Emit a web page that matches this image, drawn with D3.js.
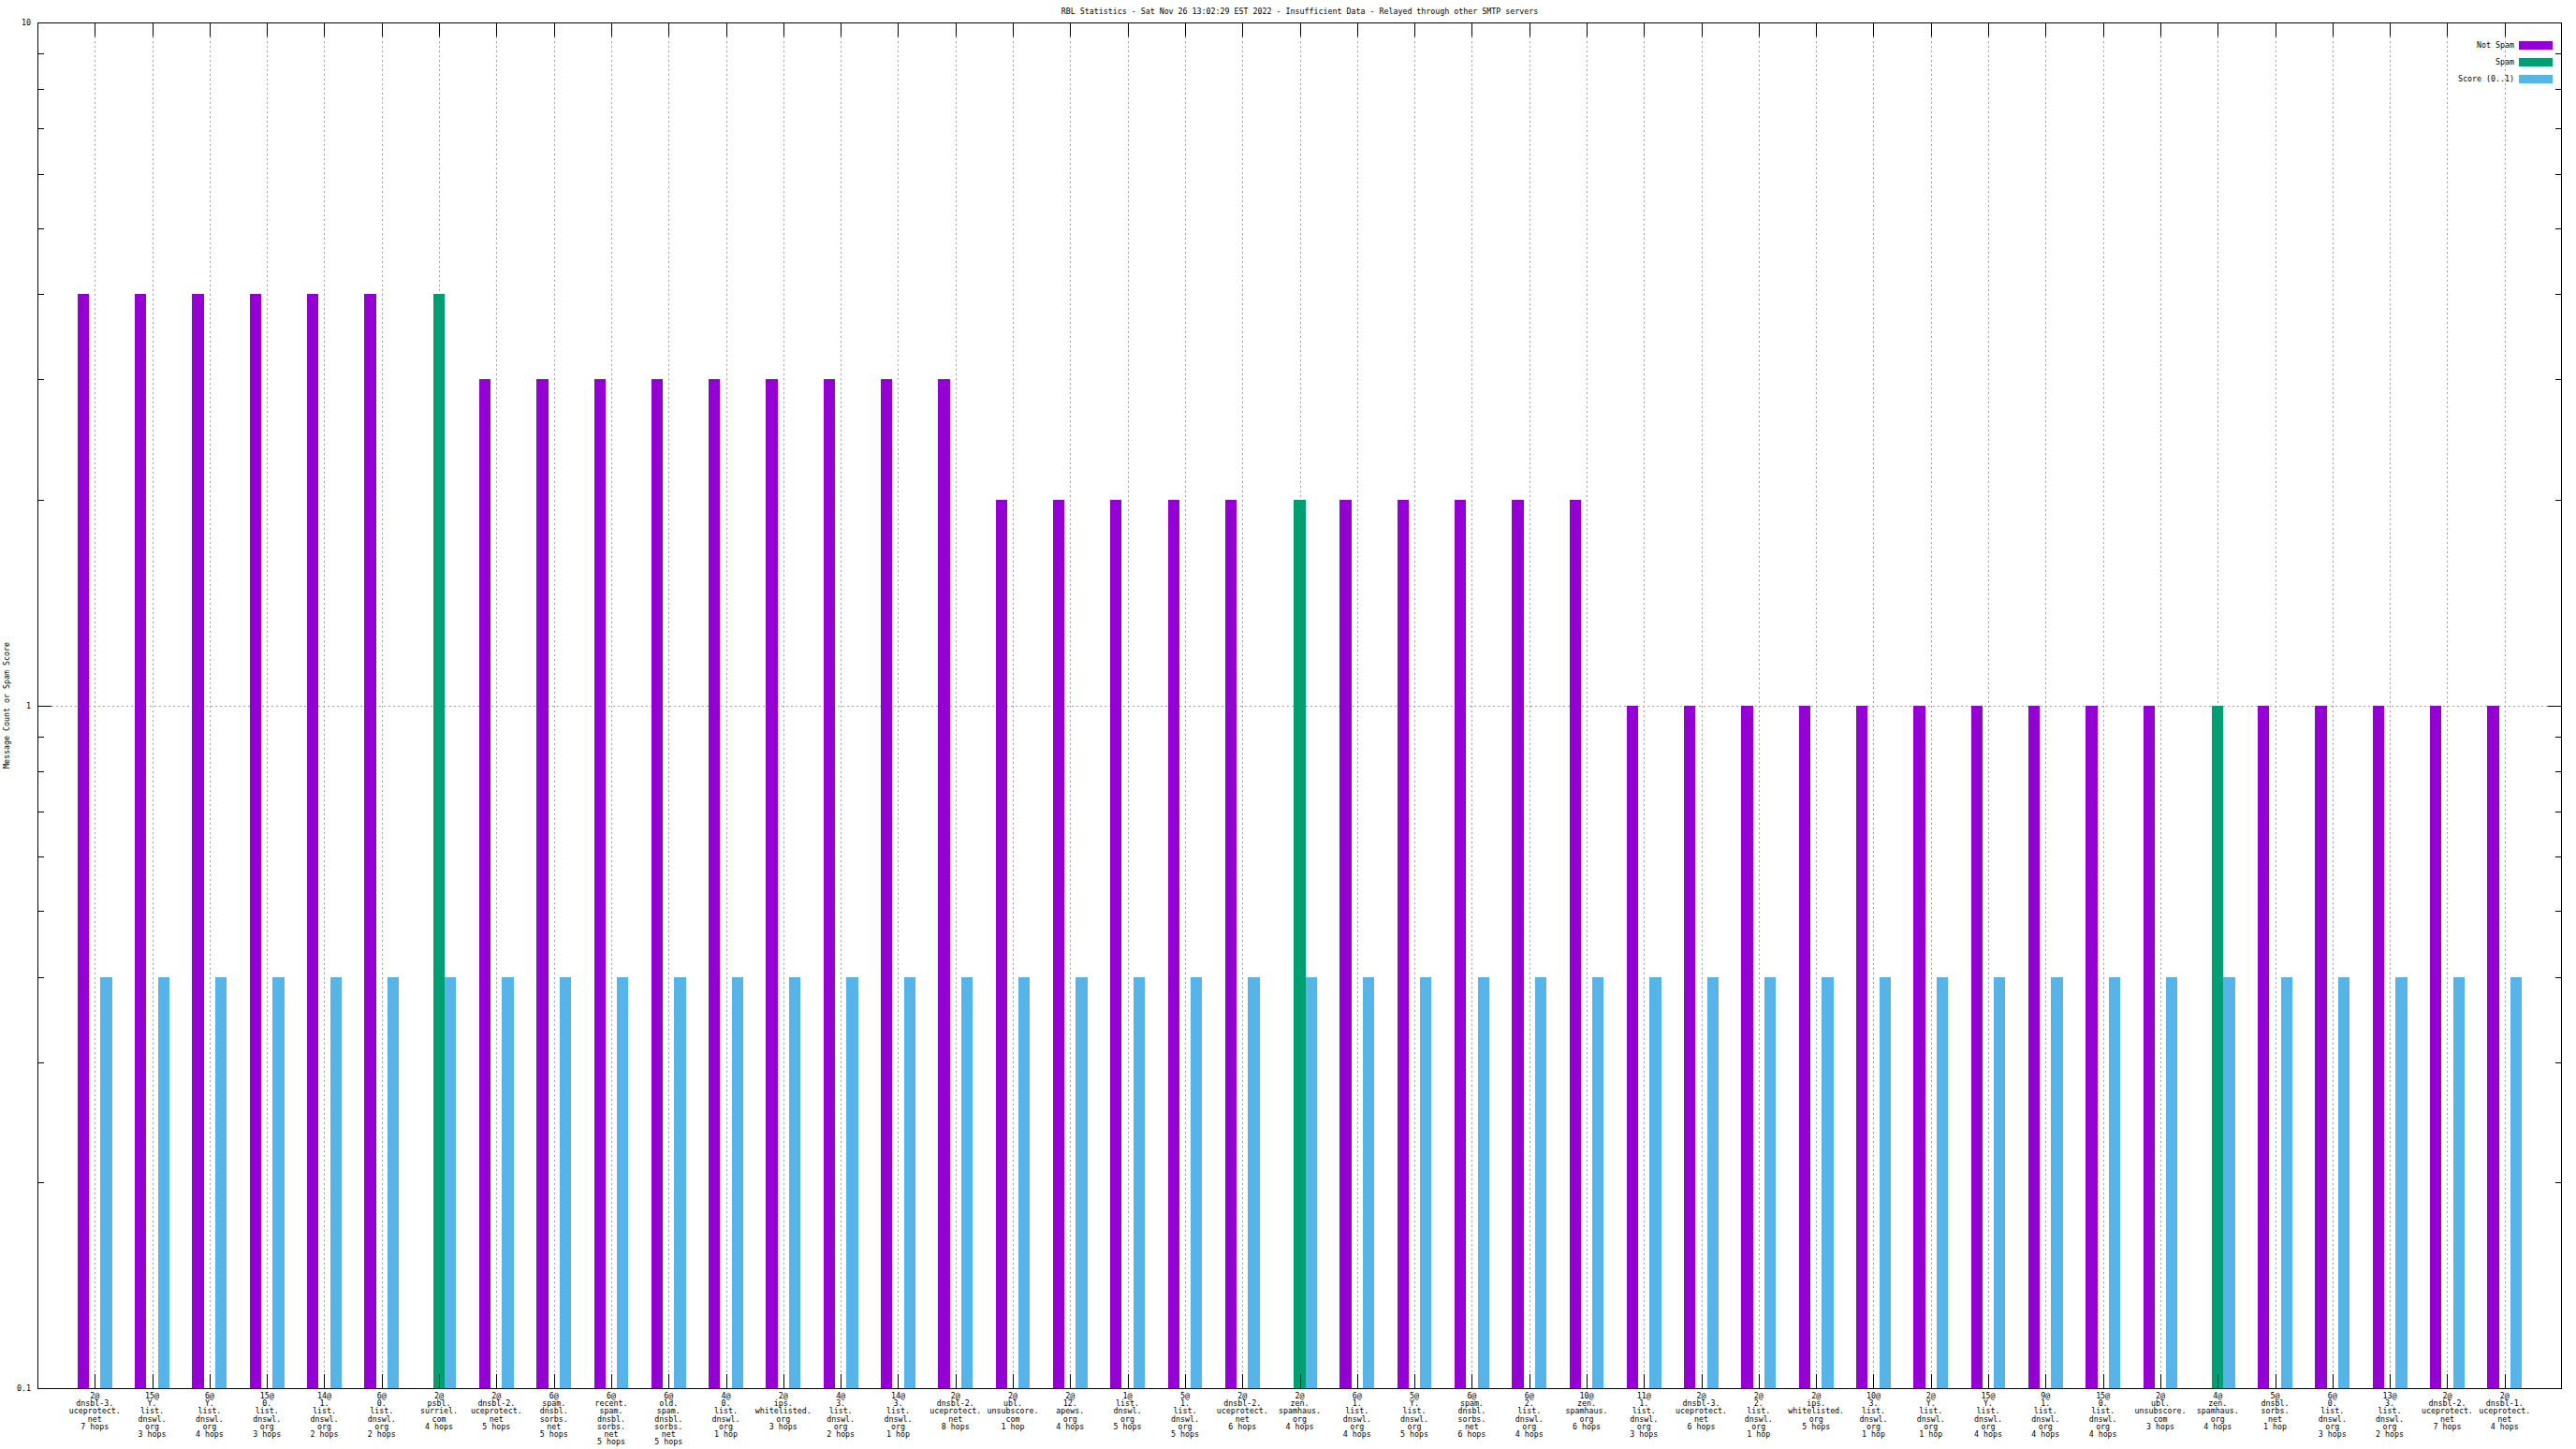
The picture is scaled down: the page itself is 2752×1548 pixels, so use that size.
<!DOCTYPE html>
<html>
<head>
<meta charset="utf-8">
<script src="https://cdn.jsdelivr.net/npm/d3@7"></script>
<style>
  html, body { margin: 0; padding: 0; background: #ffffff; }
  svg { display: block; }
  text { font-family: "DejaVu Sans Mono", "Liberation Mono", monospace; font-size: 8.3px; fill: #000; }
</style>
</head>
<body>
<script>
const titleText = "RBL Statistics - Sat Nov 26 13:02:29 EST 2022 - Insufficient Data - Relayed through other SMTP servers";
const yLabel = "Message Count or Spam Score";
const seriesNames = ["Not Spam", "Spam", "Score (0..1)"];

const categories = [
  "2@\ndnsbl-3.\nuceprotect.\nnet\n7 hops",
  "15@\nY.\nlist.\ndnswl.\norg\n3 hops",
  "6@\nY.\nlist.\ndnswl.\norg\n4 hops",
  "15@\n0.\nlist.\ndnswl.\norg\n3 hops",
  "14@\n1.\nlist.\ndnswl.\norg\n2 hops",
  "6@\n0.\nlist.\ndnswl.\norg\n2 hops",
  "2@\npsbl.\nsurriel.\ncom\n4 hops",
  "2@\ndnsbl-2.\nuceprotect.\nnet\n5 hops",
  "6@\nspam.\ndnsbl.\nsorbs.\nnet\n5 hops",
  "6@\nrecent.\nspam.\ndnsbl.\nsorbs.\nnet\n5 hops",
  "6@\nold.\nspam.\ndnsbl.\nsorbs.\nnet\n5 hops",
  "4@\n0.\nlist.\ndnswl.\norg\n1 hop",
  "2@\nips.\nwhitelisted.\norg\n3 hops",
  "4@\n3.\nlist.\ndnswl.\norg\n2 hops",
  "14@\n3.\nlist.\ndnswl.\norg\n1 hop",
  "2@\ndnsbl-2.\nuceprotect.\nnet\n8 hops",
  "2@\nubl.\nunsubscore.\ncom\n1 hop",
  "2@\n12.\napews.\norg\n4 hops",
  "1@\nlist.\ndnswl.\norg\n5 hops",
  "5@\n1.\nlist.\ndnswl.\norg\n5 hops",
  "2@\ndnsbl-2.\nuceprotect.\nnet\n6 hops",
  "2@\nzen.\nspamhaus.\norg\n4 hops",
  "6@\n1.\nlist.\ndnswl.\norg\n4 hops",
  "5@\nY.\nlist.\ndnswl.\norg\n5 hops",
  "6@\nspam.\ndnsbl.\nsorbs.\nnet\n6 hops",
  "6@\n2.\nlist.\ndnswl.\norg\n4 hops",
  "10@\nzen.\nspamhaus.\norg\n6 hops",
  "11@\n1.\nlist.\ndnswl.\norg\n3 hops",
  "2@\ndnsbl-3.\nuceprotect.\nnet\n6 hops",
  "2@\n2.\nlist.\ndnswl.\norg\n1 hop",
  "2@\nips.\nwhitelisted.\norg\n5 hops",
  "10@\n3.\nlist.\ndnswl.\norg\n1 hop",
  "2@\nY.\nlist.\ndnswl.\norg\n1 hop",
  "15@\nY.\nlist.\ndnswl.\norg\n4 hops",
  "9@\n1.\nlist.\ndnswl.\norg\n4 hops",
  "15@\n0.\nlist.\ndnswl.\norg\n4 hops",
  "2@\nubl.\nunsubscore.\ncom\n3 hops",
  "4@\nzen.\nspamhaus.\norg\n4 hops",
  "5@\ndnsbl.\nsorbs.\nnet\n1 hop",
  "6@\n0.\nlist.\ndnswl.\norg\n3 hops",
  "13@\n3.\nlist.\ndnswl.\norg\n2 hops",
  "2@\ndnsbl-2.\nuceprotect.\nnet\n7 hops",
  "2@\ndnsbl-1.\nuceprotect.\nnet\n4 hops"
];

const notSpam = [4,4,4,4,4,4,0,3,3,3,3,3,3,3,3,3,2,2,2,2,2,0,2,2,2,2,2,1,1,1,1,1,1,1,1,1,1,0,1,1,1,1,1];
const spam    = [0,0,0,0,0,0,4,0,0,0,0,0,0,0,0,0,0,0,0,0,0,2,0,0,0,0,0,0,0,0,0,0,0,0,0,0,0,1,0,0,0,0,0];
const score   = [0.4,0.4,0.4,0.4,0.4,0.4,0.4,0.4,0.4,0.4,0.4,0.4,0.4,0.4,0.4,0.4,0.4,0.4,0.4,0.4,0.4,0.4,
                 0.4,0.4,0.4,0.4,0.4,0.4,0.4,0.4,0.4,0.4,0.4,0.4,0.4,0.4,0.4,0.4,0.4,0.4,0.4,0.4,0.4];

const yMajorTicks = [0.1, 1, 10];
const yTickLabels = ["0.1", "1", "10"];
const yMinorTicks = [0.2,0.3,0.4,0.5,0.6,0.7,0.8,0.9,2,3,4,5,6,7,8,9];
const colors = ["#9400d3", "#009e73", "#56b4e9"];

const W = 2752, H = 1548;
const L = 40, R = 2737, T = 24, B = 1483;

const svg = d3.select("body").append("svg").attr("width", W).attr("height", H);
svg.append("rect").attr("width", W).attr("height", H).attr("fill", "#fff");

const x = d3.scaleLinear().domain([-1, categories.length]).range([L, R]);
const y = d3.scaleLog().domain([0.1, 10]).range([B, T]);
const idx = d3.range(categories.length);

// grid
const grid = svg.append("g").attr("stroke", "#a0a0a0").attr("stroke-dasharray", "2,3")
  .attr("shape-rendering", "crispEdges");
grid.selectAll("line.v").data(idx).join("line").attr("class", "v")
  .attr("x1", d => Math.round(x(d)) + 0.5).attr("x2", d => Math.round(x(d)) + 0.5)
  .attr("y1", T).attr("y2", B);
grid.append("line").attr("x1", L).attr("x2", R)
  .attr("y1", Math.round(y(1)) + 0.5).attr("y2", Math.round(y(1)) + 0.5);

// bars
const bw = 0.2;
const bars = svg.append("g").attr("shape-rendering", "crispEdges");
function drawSeries(vals, offset, color) {
  const d = idx.filter(i => vals[i] > 0);
  bars.selectAll(null).data(d).join("rect")
    .attr("x", i => Math.round(x(i + offset - bw / 2)))
    .attr("width", i => Math.round(x(i + offset + bw / 2)) - Math.round(x(i + offset - bw / 2)))
    .attr("y", i => Math.round(y(vals[i])))
    .attr("height", i => B - Math.round(y(vals[i])))
    .attr("fill", color);
}
drawSeries(notSpam, -0.2, colors[0]);
drawSeries(spam, 0, colors[1]);
drawSeries(score, 0.2, colors[2]);

// axes
const axG = svg.append("g").attr("shape-rendering", "crispEdges");
function styleAxis(g) {
  g.select(".domain").remove();
  g.selectAll(".tick line").attr("stroke", "#000");
}
axG.append("g").attr("transform", `translate(${L},0)`)
  .call(d3.axisLeft(y).tickValues(yMajorTicks).tickSize(-15).tickPadding(7)
    .tickFormat((d, i) => yTickLabels[i]))
  .call(styleAxis)
  .call(g => g.selectAll("text").attr("font-family", null).attr("font-size", null));
axG.append("g").attr("transform", `translate(${L},0)`)
  .call(d3.axisLeft(y).tickValues(yMinorTicks).tickSize(-7).tickFormat(""))
  .call(styleAxis);
axG.append("g").attr("transform", `translate(${R},0)`)
  .call(d3.axisRight(y).tickValues(yMajorTicks).tickSize(-15).tickFormat(""))
  .call(styleAxis);
axG.append("g").attr("transform", `translate(${R},0)`)
  .call(d3.axisRight(y).tickValues(yMinorTicks).tickSize(-7).tickFormat(""))
  .call(styleAxis);
axG.append("g").attr("transform", `translate(0,${B})`)
  .call(d3.axisBottom(x).tickValues(idx).tickSize(-15).tickFormat(""))
  .call(styleAxis);
axG.append("g").attr("transform", `translate(0,${T})`)
  .call(d3.axisTop(x).tickValues(idx).tickSize(-15).tickFormat(""))
  .call(styleAxis);

// border
svg.append("rect").attr("x", L + 0.5).attr("y", T + 0.5)
  .attr("width", R - L - 1).attr("height", B - T)
  .attr("fill", "none").attr("stroke", "#000").attr("shape-rendering", "crispEdges");

// x labels
const xl = svg.append("g");
idx.forEach(i => {
  const t = xl.append("text").attr("text-anchor", "middle");
  categories[i].split("\n").forEach((line, k) => {
    t.append("tspan").attr("x", x(i)).attr("y", B + 11 + k * 8.2).text(line);
  });
});

// title
svg.append("text").attr("x", (L + R) / 2).attr("y", 15).attr("text-anchor", "middle").text(titleText);

// y label
svg.append("text").attr("transform", `translate(10,${(T + B) / 2}) rotate(-90)`)
  .attr("text-anchor", "middle").text(yLabel);

// legend
const lg = svg.append("g");
const legY = [48, 66, 84];
seriesNames.forEach((n, k) => {
  lg.append("text").attr("x", 2686).attr("y", legY[k] + 3).attr("text-anchor", "end").text(n);
  lg.append("rect").attr("x", 2691).attr("y", legY[k] - 4).attr("width", 36).attr("height", 9)
    .attr("fill", colors[k]);
});
</script>
</body>
</html>
